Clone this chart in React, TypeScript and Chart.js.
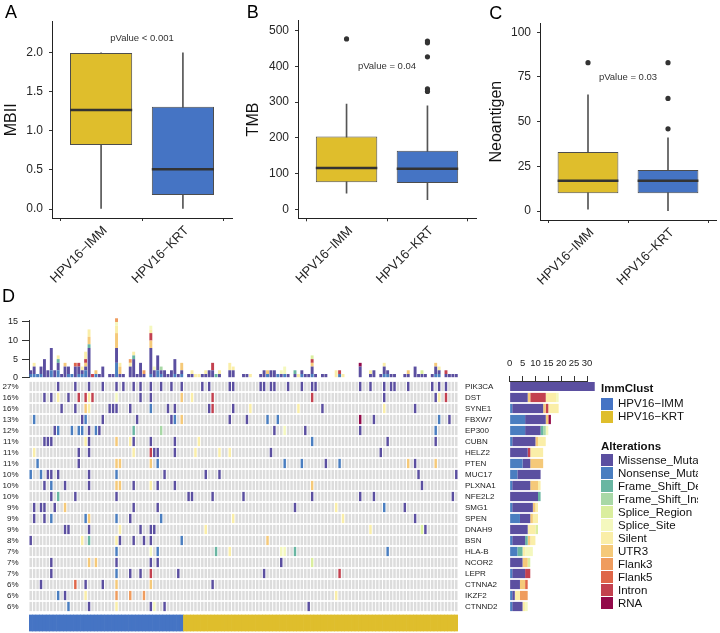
import React, { useEffect, useRef } from "react";
import { Chart, registerables } from "chart.js";

Chart.register(...registerables);
const FONT = "'Liberation Sans', Arial, Helvetica, sans-serif";
Chart.defaults.font.family = FONT;
Chart.defaults.color = "#222";

// ---------- Panels A-C (box plots) ----------
const groups = ["HPV16−IMM", "HPV16−KRT"];
const boxColors = ["#DFBE2C", "#4574C4"];

// [min, q1, median, q3, max]
const mbiiStats = [
  [0.0, 0.82, 1.27, 2.0, 2.0],
  [0.0, 0.18, 0.51, 1.31, 2.0],
];
const mbiiOutliers: number[][] = [[], []];
const mbiiTicks = [0, 0.5, 1.0, 1.5, 2.0];

const tmbStats = [
  [45, 76, 116, 204, 295],
  [27, 74, 114, 164, 290],
];
const tmbOutliers = [[477], [471, 466, 427, 337, 330]];
const tmbTicks = [0, 100, 200, 300, 400, 500];

const neoStats = [
  [1, 10, 17, 33, 65],
  [0, 10, 17, 23, 41],
];
const neoOutliers = [[83], [83, 63, 46]];
const neoTicks = [0, 25, 50, 75, 100];

// ---------- Panel D (oncoprint) ----------
const genes = ["PIK3CA", "DST", "SYNE1", "FBXW7", "EP300", "CUBN", "HELZ2", "PTEN", "MUC17", "PLXNA1", "NFE2L2", "SMG1", "SPEN", "DNAH9", "BSN", "HLA-B", "NCOR2", "LEPR", "CTNNA2", "IKZF2", "CTNND2"];
const genePct = ["27%", "16%", "16%", "13%", "12%", "11%", "11%", "11%", "10%", "10%", "10%", "9%", "9%", "9%", "8%", "7%", "7%", "7%", "6%", "6%", "6%"];
const alterations = ["Missense_Mutation", "Nonsense_Mutation", "Frame_Shift_Del", "Frame_Shift_Ins", "Splice_Region", "Splice_Site", "Silent", "UTR3", "Flank3", "Flank5", "Intron", "RNA"];
const altCodes = "MNDIRSLUTFXA";
const altColors = ["#5B4FA0", "#4A7EC0", "#69B6A2", "#A8D8A6", "#DAEE9E", "#F4F8BE", "#FAEEA8", "#F5C979", "#EF9C5E", "#DF6649", "#C3414F", "#93094A"];
const stackCodes = "NMDIUXLSRTFA";
const immClusters = ["HPV16−IMM", "HPV16−KRT"];
const clusterColors = ["#4574C4", "#DFBE2C"];
const clusterSizes = [45, 80];
const topTicks = [0, 5, 10, 15];
const sideTicks = [0, 5, 10, 15, 20, 25, 30];

// sample column : alteration code
const geneMutations = [
  "8M 13M 17M 21M 25M 27M 30M 32M 35M 38M 41M 44M 50M 52M 58M 59M 67M 68M 70M 71M 75M 79M 82M 83M 96M 99M 103M 105M 106M 110M 117M 119M 121M",
  "4M 6M 8L 11M 14X 16X 17L 18X 25S 32M 35M 44U 47L 53X 82X 103M 118M 119L 121X",
  "9M 13M 16U 17L 23M 24M 25M 29M 35N 40M 42M 52M 53X 59M 64L 78L 85M 103L 112M",
  "1N 15M 16N 21M 31M 41M 42N 44U 58M 63M 69N 72N 96A 100M 119N 122M",
  "7M 8N 12N 14N 15N 17M 19N 20M 30D 38I 71M 74S 80M 96M 118N",
  "4M 5M 6M 16L 17M 25U 29L 30M 35M 42M 49L 82N 104M 118M",
  "1L 14M 17M 30L 35X 36M 37M 42M 48L 55L 58L 70M 102M",
  "2N 14M 25U 26U 35U 37N 74N 79N 86M 90N 110U 112M 118U",
  "0N 3N 5M 6M 8M 17M 25N 39M 51M 55M 113M 124M",
  "4M 6N 10M 17M 25U 26U 30M 35L 37M 42M 82U 114M",
  "6M 8D 13M 25M 46M 47M 53M 62M 82M 96M 100M 123M",
  "1M 3M 4M 7M 10U 30M 37M 77M 89L 103N 109M",
  "1M 4M 6N 16N 17U 25N 29M 38N 59L 91L 112M",
  "10M 11M 17M 26L 32M 35M 36M 51L 99L 114R 115M",
  "0M 15L 17D 25L 26M 30M 33M 35M 44N 69U",
  "25N 35S 37N 54D 58L 73S 74S 77D 104N",
  "6M 17U 19U 25M 35M 37M 73M 82R",
  "6M 25N 29M 32M 35X 43M 68M 90X",
  "3M 13F 16M 21M 25U 35U 53M",
  "8N 10M 16L 25T 29T 33T 89L",
  "11N 17M 25L 35M 36S 39M 81M",
];

const nSamples = clusterSizes[0] + clusterSizes[1];
const sampleIds = Array.from({ length: nSamples }, (_, i) => "S" + (i + 1));
const sampleCluster = sampleIds.map((_, j) => (j < clusterSizes[0] ? 0 : 1));
const mutMatrix = geneMutations.map((s) => {
  const row = sampleIds.map(() => -1);
  s.trim().split(/\s+/).forEach((tok) => {
    row[parseInt(tok, 10)] = altCodes.indexOf(tok.slice(-1));
  });
  return row;
});
const stackOrder = stackCodes.split("").map((c) => altCodes.indexOf(c));

const noPlugins = { legend: { display: false }, tooltip: { enabled: false } };
const noVPad = (a: any) => {
  a.paddingTop = 0;
  a.paddingBottom = 0;
};

function ChartCanvas({ left, top, width, height, make }: { left: number; top: number; width: number; height: number; make: () => any }) {
  const ref = useRef<HTMLCanvasElement>(null);
  useEffect(() => {
    const chart = new Chart(ref.current as HTMLCanvasElement, make());
    return () => chart.destroy();
  }, []);
  return (
    <div style={{ position: "absolute", left, top, width, height }}>
      <canvas ref={ref} width={width} height={height} style={{ display: "block" }} />
    </div>
  );
}

function pTextPlugin(text: string, xv: number, yv: number) {
  return {
    id: "ptext",
    afterDatasetsDraw(chart: any) {
      const { ctx, scales } = chart;
      ctx.save();
      ctx.font = `9.5px ${FONT}`;
      ctx.fillStyle = "#333";
      ctx.textAlign = "center";
      ctx.textBaseline = "middle";
      ctx.fillText(text, scales.x.getPixelForValue(xv), scales.y.getPixelForValue(yv));
      ctx.restore();
    },
  };
}

type BoxSpec = {
  stats: number[][];
  outliers: number[][];
  yMin: number;
  yMax: number;
  yTicks: number[];
  fmt: (v: number) => string;
  title: string;
  titlePad: number;
  yW: number;
  padR: number;
  padT: number;
  xH: number;
  pText: string;
  pY: number;
};

function boxConfig(p: BoxSpec) {
  const halfBox = (c: any) => {
    const s = c.chart.scales.x;
    return Math.abs(s.getPixelForValue(2) - s.getPixelForValue(1)) * 0.38;
  };
  return {
    type: "bar",
    data: {
      datasets: [
        {
          type: "scatter",
          data: p.stats.map((s, i) => ({ x: i + 1, y: s[2] })),
          pointStyle: "line",
          pointRadius: halfBox,
          pointHoverRadius: halfBox,
          pointBorderColor: "#333",
          pointBorderWidth: 2.5,
        },
        {
          type: "bar",
          data: p.stats.map((s, i) => ({ x: i + 1, y: [s[1], s[3]] })),
          backgroundColor: boxColors,
          borderColor: "#4d4d4d",
          borderWidth: 1,
          borderSkipped: false,
          barPercentage: 0.76,
          categoryPercentage: 1,
          grouped: false,
        },
        {
          type: "bar",
          data: p.stats.map((s, i) => ({ x: i + 1, y: [s[0], s[4]] })),
          backgroundColor: "#555",
          barThickness: 1,
          grouped: false,
        },
        {
          type: "scatter",
          data: p.outliers.flatMap((o, i) => o.map((v) => ({ x: i + 1, y: v }))),
          pointRadius: 2.6,
          pointBackgroundColor: "#333",
          pointBorderWidth: 0,
        },
      ],
    },
    options: {
      responsive: false,
      animation: false,
      layout: { padding: { top: p.padT, right: p.padR, left: 0, bottom: 0 } },
      plugins: noPlugins,
      scales: {
        x: {
          type: "linear",
          min: 0.4,
          max: 2.6,
          offset: false,
          afterBuildTicks: (a: any) => {
            a.ticks = [{ value: 1 }, { value: 2 }];
          },
          afterFit: (a: any) => {
            a.height = p.xH;
          },
          ticks: {
            callback: (v: number) => groups[v - 1] ?? "",
            minRotation: 45,
            maxRotation: 45,
            autoSkip: false,
            font: { size: 13 },
            color: "#262626",
            padding: 2,
            labelOffset: 4,
          },
          grid: { drawOnChartArea: false, drawTicks: true, tickLength: 3, color: "#333" },
          border: { display: true, color: "#222", width: 1 },
        },
        y: {
          type: "linear",
          min: p.yMin,
          max: p.yMax,
          afterBuildTicks: (a: any) => {
            a.ticks = p.yTicks.map((v) => ({ value: v }));
          },
          afterFit: (a: any) => {
            a.width = p.yW;
          },
          ticks: { callback: p.fmt, font: { size: 12 }, color: "#262626", padding: 6 },
          grid: { drawOnChartArea: false, tickLength: 3, color: "#333" },
          border: { display: true, color: "#222", width: 1 },
          title: { display: true, text: p.title, font: { size: 16 }, color: "#111", padding: { top: p.titlePad, bottom: 0 } },
        },
      },
    },
    plugins: [pTextPlugin(p.pText, 1.5, p.pY)],
  };
}

function topBarConfig() {
  return {
    type: "bar",
    data: {
      labels: sampleIds,
      datasets: stackOrder.map((t) => ({
        label: alterations[t],
        data: sampleIds.map((_, j) => mutMatrix.reduce((acc, row) => acc + (row[j] === t ? 1 : 0), 0)),
        backgroundColor: altColors[t],
        barPercentage: 0.85,
        categoryPercentage: 1,
        clip: false,
      })),
    },
    options: {
      responsive: false,
      animation: false,
      layout: { padding: { top: 20.5, right: 2, bottom: 2.3, left: 0 } },
      plugins: noPlugins,
      scales: {
        x: { stacked: true, display: false },
        y: {
          stacked: true,
          min: 0,
          max: 15.4,
          afterBuildTicks: (a: any) => {
            a.ticks = topTicks.map((v) => ({ value: v }));
          },
          afterFit: (a: any) => {
            a.width = 29;
            noVPad(a);
          },
          ticks: { font: { size: 9 }, padding: 4, color: "#222" },
          grid: { drawOnChartArea: false, tickLength: 7, color: "#333" },
          border: { display: true, color: "#333", width: 1 },
        },
      },
    },
  };
}

function gridConfig() {
  const half = 0.42;
  const annot = [20.77, 22.23];
  const rowDatasets = genes.map((_, g) => ({
    data: sampleIds.map(() => [g - half, g + half]),
    backgroundColor: sampleIds.map((_, j) => (mutMatrix[g][j] >= 0 ? altColors[mutMatrix[g][j]] : "#DCDCDC")),
    barPercentage: 0.72,
    categoryPercentage: 1,
    grouped: false,
  }));
  const annotDataset = {
    data: sampleIds.map(() => annot),
    backgroundColor: sampleIds.map((_, j) => clusterColors[sampleCluster[j]]),
    barPercentage: 1,
    categoryPercentage: 1,
    grouped: false,
  };
  const yCommon = {
    type: "linear",
    min: -0.5,
    max: 22.318,
    reverse: true,
    afterBuildTicks: (a: any) => {
      a.ticks = genes.map((_, i) => ({ value: i }));
    },
    grid: { display: false, drawTicks: false, tickLength: 0 },
    border: { display: false },
  };
  return {
    type: "bar",
    data: { labels: sampleIds, datasets: [...rowDatasets, annotDataset] },
    options: {
      responsive: false,
      animation: false,
      layout: { padding: 0 },
      plugins: noPlugins,
      scales: {
        x: { type: "category", display: false },
        y: {
          ...yCommon,
          position: "left",
          afterFit: (a: any) => {
            a.width = 29;
            noVPad(a);
          },
          ticks: { callback: (v: number) => genePct[v] ?? "", font: { size: 8 }, color: "#222", padding: 10.5, autoSkip: false },
        },
        yR: {
          ...yCommon,
          position: "right",
          afterFit: (a: any) => {
            a.width = 62;
            noVPad(a);
          },
          ticks: { callback: (v: number) => genes[v] ?? "", font: { size: 8 }, color: "#222", padding: 7, autoSkip: false },
        },
      },
    },
  };
}

function sideBarConfig() {
  return {
    type: "bar",
    data: {
      labels: genes,
      datasets: stackOrder.map((t) => ({
        label: alterations[t],
        data: genes.map((_, g) => mutMatrix[g].filter((v) => v === t).length),
        backgroundColor: altColors[t],
        barPercentage: 0.84,
        categoryPercentage: 1,
        clip: false,
      })),
    },
    options: {
      indexAxis: "y",
      responsive: false,
      animation: false,
      layout: { padding: { left: 7, right: 13, top: 0, bottom: 0 } },
      plugins: noPlugins,
      scales: {
        x: {
          stacked: true,
          position: "top",
          min: 0,
          max: 30,
          afterBuildTicks: (a: any) => {
            a.ticks = sideTicks.map((v) => ({ value: v }));
          },
          afterFit: (a: any) => {
            a.height = 31;
          },
          ticks: { font: { size: 9.5 }, padding: 7, maxRotation: 0, minRotation: 0, autoSkip: false, color: "#222" },
          grid: { drawOnChartArea: false, tickLength: 5, color: "#333" },
          border: { display: true, color: "#333", width: 1 },
        },
        y: { stacked: true, display: false },
      },
    },
  };
}

function Legend() {
  const text = (top: number, s: string, bold = false) => (
    <div style={{ position: "absolute", left: bold ? 0 : 17, top, fontSize: 11.5, lineHeight: "13px", fontWeight: bold ? "bold" : "normal", whiteSpace: "nowrap" }}>{s}</div>
  );
  const sw = (top: number, c: string) => <div style={{ position: "absolute", left: 0, top, width: 12, height: 12, background: c }} />;
  return (
    <div style={{ position: "absolute", left: 601, top: 380, width: 97, height: 240, overflow: "hidden", fontFamily: FONT, color: "#111" }}>
      {text(1.5, "ImmClust", true)}
      {immClusters.map((n, i) => (
        <React.Fragment key={n}>
          {sw(17.7 + 13 * i, clusterColors[i])}
          {text(17.2 + 13 * i, n)}
        </React.Fragment>
      ))}
      {text(59.5, "Alterations", true)}
      {alterations.map((n, i) => (
        <React.Fragment key={n}>
          {sw(74.3 + 13 * i, altColors[i])}
          {text(73.8 + 13 * i, n)}
        </React.Fragment>
      ))}
    </div>
  );
}

const letter = (s: string, left: number, top: number) => (
  <div style={{ position: "absolute", left, top, fontSize: 18, lineHeight: "18px", fontFamily: FONT, color: "#000" }}>{s}</div>
);

export default function App() {
  return (
    <div style={{ position: "absolute", left: 0, top: 0, width: 720, height: 633, overflow: "hidden", background: "#fff" }}>
      <ChartCanvas
        left={0}
        top={0}
        width={240}
        height={300}
        make={() =>
          boxConfig({ stats: mbiiStats, outliers: mbiiOutliers, yMin: -0.115, yMax: 2.4, yTicks: mbiiTicks, fmt: (v) => v.toFixed(1), title: "MBII", titlePad: 2.2, yW: 52, padR: 8, padT: 21.7, xH: 82, pText: "pValue < 0.001", pY: 2.19 })
        }
      />
      <ChartCanvas
        left={240}
        top={0}
        width={240}
        height={300}
        make={() =>
          boxConfig({ stats: tmbStats, outliers: tmbOutliers, yMin: -25, yMax: 528, yTicks: tmbTicks, fmt: (v) => String(v), title: "TMB", titlePad: 3.5, yW: 58, padR: 4, padT: 20.7, xH: 81.7, pText: "pValue = 0.04", pY: 400 })
        }
      />
      <ChartCanvas
        left={480}
        top={0}
        width={240}
        height={300}
        make={() =>
          boxConfig({ stats: neoStats, outliers: neoOutliers, yMin: -5, yMax: 105, yTicks: neoTicks, fmt: (v) => String(v), title: "Neoantigen", titlePad: 7.2, yW: 60, padR: 4, padT: 23.3, xH: 80, pText: "pValue = 0.03", pY: 75 })
        }
      />
      <ChartCanvas left={0} top={300} width={460} height={80} make={topBarConfig} />
      <ChartCanvas left={0} top={381} width={520} height={251} make={gridConfig} />
      <ChartCanvas left={500} top={350} width={100} height={262} make={sideBarConfig} />
      <Legend />
      {letter("A", 5, 2.7)}
      {letter("B", 246.7, 2.7)}
      {letter("C", 489.3, 4.4)}
      {letter("D", 2, 286.7)}
    </div>
  );
}
